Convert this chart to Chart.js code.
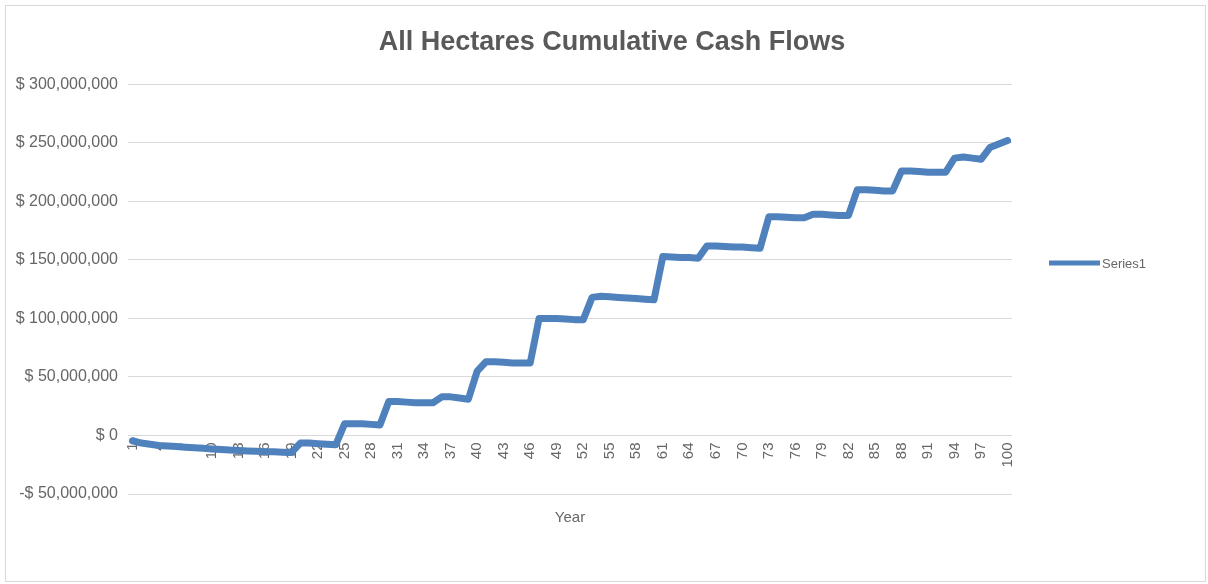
<!DOCTYPE html>
<html>
<head>
<meta charset="utf-8">
<script src="https://cdn.jsdelivr.net/npm/chart.js@4"></script>
<style>
  html, body { margin: 0; padding: 0; background: #fff; }
  canvas { display: block; }
</style>
</head>
<body>
<canvas id="cashChart" width="1208" height="584"></canvas>
<script>
// --- data (millions of $) ---
const years = [];
for (let y = 1; y <= 100; y++) years.push(y);

const cumulativeM = [
  -4.5, -6.5, -7.5, -8.5, -9, -9.5, -10, -10.5, -11, -11.5,
  -12, -12.5, -12.8, -13.2, -13.5, -13.8, -14, -14.3, -14.5, -6.5,
  -6.5, -7, -7.5, -8, 10, 10, 10, 9.5, 9, 29,
  29, 28.5, 28, 28, 28, 33, 33, 32, 31, 55,
  63, 63, 62.5, 62, 62, 62, 100, 100, 100, 99.5,
  99, 99, 118, 119, 118.5, 118, 117.5, 117, 116.5, 116,
  153, 152.5, 152, 152, 151.5, 162, 162, 161.5, 161, 161,
  160.5, 160, 187, 187, 186.5, 186, 186, 189, 189, 188.5,
  188, 188, 210, 210, 209.5, 209, 209, 226, 226, 225.5,
  225, 225, 225, 237, 238, 237, 236, 246, 249, 252
];

const yTicks = [-50e6, 0, 50e6, 100e6, 150e6, 200e6, 250e6, 300e6];
const seriesName = 'Series1';
const lineColor = '#4F81BD';
const textColor = '#666666';

function money(v) {
  const s = Math.abs(v).toLocaleString('en-US');
  return (v < 0 ? '-$ ' : '$ ') + s;
}

// frame, rotated year labels, axis title and legend
const excelBits = {
  id: 'excelBits',
  beforeDraw(chart) {
    const ctx = chart.ctx;
    ctx.save();
    ctx.strokeStyle = '#d9d9d9';
    ctx.lineWidth = 1;
    ctx.strokeRect(5.5, 5.5, 1200, 576);
    ctx.restore();
  },
  beforeDatasetsDraw(chart) {
    const ctx = chart.ctx;
    const x = chart.scales.x;
    const y0 = chart.scales.y.getPixelForValue(0);
    ctx.save();
    ctx.font = '15px "Liberation Sans", Arial, sans-serif';
    ctx.fillStyle = textColor;
    ctx.textAlign = 'right';
    ctx.textBaseline = 'middle';
    years.forEach((yr, i) => {
      if (i % 3 !== 0) return;
      const px = x.getPixelForValue(i);
      ctx.save();
      ctx.translate(px, y0 + 7);
      ctx.rotate(-Math.PI / 2);
      ctx.fillText(String(yr), 0, 0);
      ctx.restore();
    });
    ctx.restore();
  },
  afterDraw(chart) {
    const ctx = chart.ctx;
    const area = chart.chartArea;
    ctx.save();
    ctx.fillStyle = textColor;
    ctx.font = '15px "Liberation Sans", Arial, sans-serif';
    ctx.textAlign = 'center';
    ctx.textBaseline = 'middle';
    ctx.fillText('Year', (area.left + area.right) / 2, 518);
    // legend
    ctx.strokeStyle = lineColor;
    ctx.lineWidth = 5;
    ctx.beginPath();
    ctx.moveTo(1049, 263);
    ctx.lineTo(1100, 263);
    ctx.stroke();
    ctx.textAlign = 'left';
    ctx.font = '13px "Liberation Sans Narrow", "Liberation Sans", Arial, sans-serif';
    ctx.fillText(seriesName, 1102, 264);
    ctx.restore();
  }
};

new Chart(document.getElementById('cashChart'), {
  type: 'line',
  data: {
    labels: years,
    datasets: [{
      label: seriesName,
      data: cumulativeM.map(v => v * 1e6),
      borderColor: lineColor,
      backgroundColor: lineColor,
      borderWidth: 7,
      pointRadius: 0,
      tension: 0,
      borderJoinStyle: 'round',
      borderCapStyle: 'round'
    }]
  },
  options: {
    responsive: false,
    animation: false,
    layout: { padding: { left: 16, right: 0, top: 0, bottom: 90 } },
    plugins: {
      legend: { display: false },
      tooltip: { enabled: false },
      title: {
        display: true,
        text: 'All Hectares Cumulative Cash Flows',
        color: '#595959',
        font: { family: '"Liberation Sans", Arial, sans-serif', size: 27, weight: 'bold' },
        padding: { top: 26, bottom: 26 }
      }
    },
    scales: {
      x: {
        display: false,
        offset: true
      },
      y: {
        min: -50e6,
        max: 300e6,
        afterBuildTicks(scale) {
          scale.ticks = yTicks.map(v => ({ value: v }));
        },
        afterFit(scale) { scale.width = 112; },
        border: { display: false },
        grid: { color: '#d9d9d9', drawTicks: false },
        ticks: {
          padding: 10,
          color: textColor,
          font: { family: '"Liberation Sans", Arial, sans-serif', size: 16 },
          callback: v => money(v)
        }
      },
      // empty right-hand axis that only reserves the legend's space
      yRight: {
        position: 'right',
        display: true,
        afterFit(scale) { scale.width = 196; },
        grid: { display: false },
        border: { display: false },
        ticks: { display: false }
      }
    }
  },
  plugins: [excelBits]
});
</script>
</body>
</html>
